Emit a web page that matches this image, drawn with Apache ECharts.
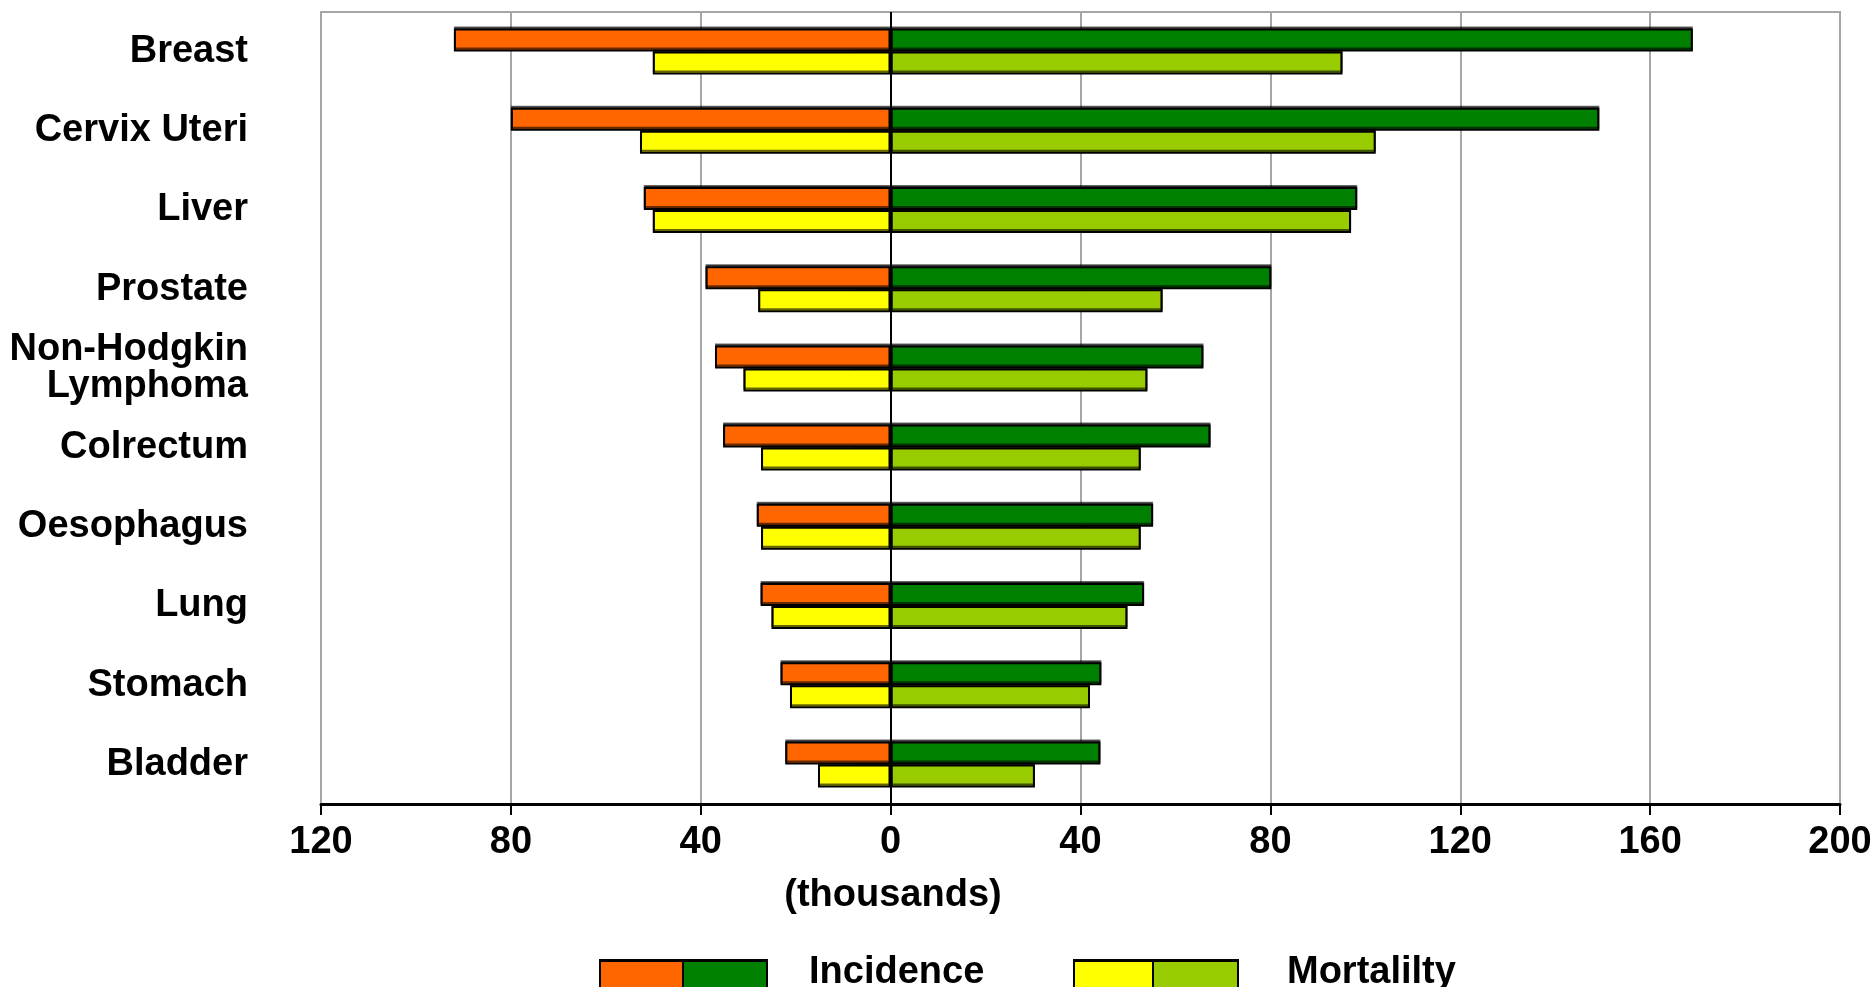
<!DOCTYPE html>
<html>
<head>
<meta charset="utf-8">
<script src="https://cdn.jsdelivr.net/npm/echarts@6/dist/echarts.min.js"></script>
<style>
  html, body { margin: 0; padding: 0; background: #ffffff; }
  #chart { width: 1876px; height: 987px; }
</style>
</head>
<body>
<div id="chart"></div>
<script>
// Cancer sites, top to bottom
const categories = ['Breast', 'Cervix Uteri', 'Liver', 'Prostate', 'Non-Hodgkin\nLymphoma',
  'Colrectum', 'Oesophagus', 'Lung', 'Stomach', 'Bladder'];

// Values in thousands: left-hand (orange / yellow) and right-hand (green) bars
const incidenceLeft  = [92, 80, 52, 39, 37, 35.3, 28.2, 27.4, 23.2, 22.2];
const incidenceRight = [169, 149.3, 98.3, 80.2, 65.9, 67.4, 55.3, 53.4, 44.4, 44.2];
const mortalityLeft  = [50.1, 52.8, 50.1, 27.9, 31, 27.3, 27.3, 25.1, 21.2, 15.3];
const mortalityRight = [95.2, 102.2, 97, 57.3, 54.1, 52.7, 52.7, 49.9, 42, 30.4];

// Value axis ticks
const axisMin = -120, axisMax = 200, axisStep = 40;

const FONT = 'Liberation Sans, Arial, sans-serif';
const FS = 38;
const ORANGE = '#FF6600', DKGREEN = '#008000', YELLOW = '#FFFF00', LTGREEN = '#99CC00';

const barStyle = (color) => ({
  color: color,
  borderColor: '#000000',
  borderWidth: 2,
  shadowColor: 'rgba(0,0,0,0.6)',
  shadowOffsetY: -2,
  shadowBlur: 0
});

function barSeries(name, stack, values, color, sign) {
  return {
    name: name,
    type: 'bar',
    stack: stack,
    barWidth: 23,
    barGap: '0%',
    data: values.map(v => sign * v),
    itemStyle: barStyle(color),
    emphasis: { disabled: true }
  };
}

const series = [
  barSeries('Incidence', 'inc', incidenceLeft, ORANGE, -1),
  barSeries('Incidence', 'inc', incidenceRight, DKGREEN, 1),
  barSeries('Mortalilty', 'mort', mortalityLeft, YELLOW, -1),
  barSeries('Mortalilty', 'mort', mortalityRight, LTGREEN, 1)
];

// Black zero line drawn over the bars
series[3].markLine = {
  silent: true,
  symbol: 'none',
  label: { show: false },
  lineStyle: { color: '#000000', width: 2, type: 'solid' },
  data: [{ xAxis: 0 }]
};

// Two-colour legend keys
function legendKey(x, y, c1, c2, w1, w2, label, tx) {
  return [
    { type: 'rect', shape: { x: x, y: y, width: w1, height: 30 },
      style: { fill: c1, stroke: '#000', lineWidth: 2 } },
    { type: 'rect', shape: { x: x + w1, y: y, width: w2, height: 30 },
      style: { fill: c2, stroke: '#000', lineWidth: 2 } },
    { type: 'rect', shape: { x: x, y: y - 1, width: w1 + w2, height: 3 },
      style: { fill: '#000' } },
    { type: 'text', x: tx, y: y + 13,
      style: { text: label, fill: '#000', font: 'bold ' + FS + 'px ' + FONT,
               textVerticalAlign: 'middle', textAlign: 'left' } }
  ];
}

const chart = echarts.init(document.getElementById('chart'), null, { renderer: 'canvas' });
chart.setOption({
  animation: false,
  backgroundColor: '#ffffff',
  grid: {
    left: 321, right: 36, top: 12, bottom: 183,
    show: true, borderColor: '#A6A6A6', borderWidth: 2, backgroundColor: 'transparent'
  },
  xAxis: {
    type: 'value',
    min: axisMin, max: axisMax, interval: axisStep,
    axisLine: { show: true, onZero: false, lineStyle: { color: '#000', width: 3 } },
    axisTick: { show: true, length: 11, lineStyle: { color: '#000', width: 2 } },
    axisLabel: {
      margin: 20, fontFamily: FONT, fontWeight: 'bold', fontSize: FS, color: '#000',
      formatter: (v) => String(Math.abs(v))
    },
    splitLine: { show: true, lineStyle: { color: '#A6A6A6', width: 2 } }
  },
  yAxis: {
    type: 'category',
    data: categories,
    inverse: true,
    axisLine: { show: false },
    axisTick: { show: true, alignWithLabel: true, length: 38, lineStyle: { color: '#A6A6A6', width: 2 } },
    axisLabel: {
      margin: 73, fontFamily: FONT, fontWeight: 'bold', fontSize: FS, color: '#000',
      lineHeight: 37, align: 'right'
    },
    splitLine: { show: false }
  },
  series: series,
  graphic: [
    // unit caption under the value axis
    { type: 'text', x: 893, y: 896,
      style: { text: '(thousands)', fill: '#000', font: 'bold ' + FS + 'px ' + FONT,
               textAlign: 'center', textVerticalAlign: 'middle' } },
    ...legendKey(600, 960, ORANGE, DKGREEN, 83, 84, 'Incidence', 809),
    ...legendKey(1074, 960, YELLOW, LTGREEN, 79, 85, 'Mortalilty', 1287)
  ]
});
</script>
</body>
</html>
